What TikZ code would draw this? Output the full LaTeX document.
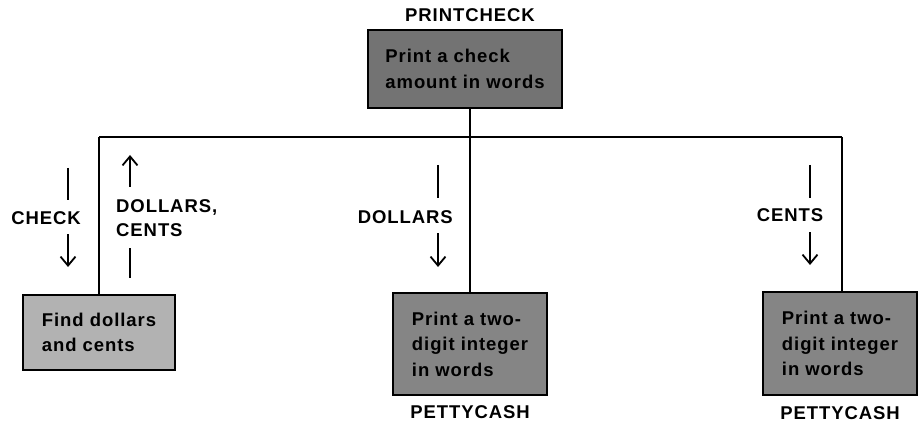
\documentclass[tikz,border=0pt]{standalone}
\usepackage{fontspec}
\setmainfont{Liberation Sans}[LetterSpace=5]
\usetikzlibrary{arrows.meta}
\begin{document}
\begin{tikzpicture}[x=1pt,y=-1pt,
  lab/.style={font=\fontsize{18.5}{22}\selectfont\bfseries, inner sep=0pt},
  modbox/.style={draw=black, line width=2.4pt, align=left, inner sep=0pt,
     font=\fontsize{18.5}{25.5}\selectfont\bfseries},
  conn/.style={line width=2pt},
  flow/.style={line width=1.8pt},
  flowhead/.style={line width=1.8pt, -{Straight Barb[length=9pt,width=15pt,line width=1.8pt]}}
]
\useasboundingbox (0,0) rectangle (919,425);
% boxes
\node[modbox, fill=black!55, minimum width=194pt, minimum height=78pt] (top) at (465,69)
  {Print a check\\amount in words};
\node[modbox, fill=black!30, minimum width=152pt, minimum height=75pt] (left) at (99,332.5)
  {Find dollars\\and cents};
\node[modbox, fill=black!48, minimum width=154pt, minimum height=102pt] (mid) at (470,344)
  {Print a two-\\digit integer\\in words};
\node[modbox, fill=black!48, minimum width=154pt, minimum height=103pt] (right) at (840,343.5)
  {Print a two-\\digit integer\\in words};
% labels
\node[lab] (pc) at (470,15) {PRINTCHECK};
\node[lab] (pm) at (470,412) {PETTYCASH};
\node[lab] (pr) at (840,413) {PETTYCASH};
% connectors
\coordinate (hl) at (99,137);
\coordinate (hr) at (842,137);
\draw[conn] (hl) -- (hr);
\draw[conn] (top.south -| mid.north) -- (mid.north);
\draw[conn] (hl) -- (left.north);
\draw[conn] (hr) -- (hr |- right.north);
% flow labels
\node[lab] (lcheck) at (46,218) {CHECK};
\node[lab, align=left, anchor=west, font=\fontsize{18.5}{24}\selectfont\bfseries] (ldc) at (116,218) {DOLLARS,\\CENTS};
\node[lab, anchor=east] (ldol) at (453,217) {DOLLARS};
\node[lab] (lcent) at (790,215) {CENTS};
% flow arrows
\coordinate (c1) at (68,168); \coordinate (c2) at (68,200);
\coordinate (c3) at (68,234); \coordinate (c4) at (68,267);
\draw[flow] (c1) -- (c2);
\draw[flowhead] (c3) -- (c4);
\coordinate (d1) at (130,155); \coordinate (d2) at (130,187);
\coordinate (d3) at (130,248); \coordinate (d4) at (130,278);
\draw[flowhead] (d2) -- (d1);
\draw[flow] (d3) -- (d4);
\coordinate (m1) at (438,165); \coordinate (m2) at (438,198);
\coordinate (m3) at (438,233); \coordinate (m4) at (438,267);
\draw[flow] (m1) -- (m2);
\draw[flowhead] (m3) -- (m4);
\coordinate (r1) at (810,165); \coordinate (r2) at (810,198);
\coordinate (r3) at (810,232); \coordinate (r4) at (810,265);
\draw[flow] (r1) -- (r2);
\draw[flowhead] (r3) -- (r4);
\end{tikzpicture}
\end{document}
